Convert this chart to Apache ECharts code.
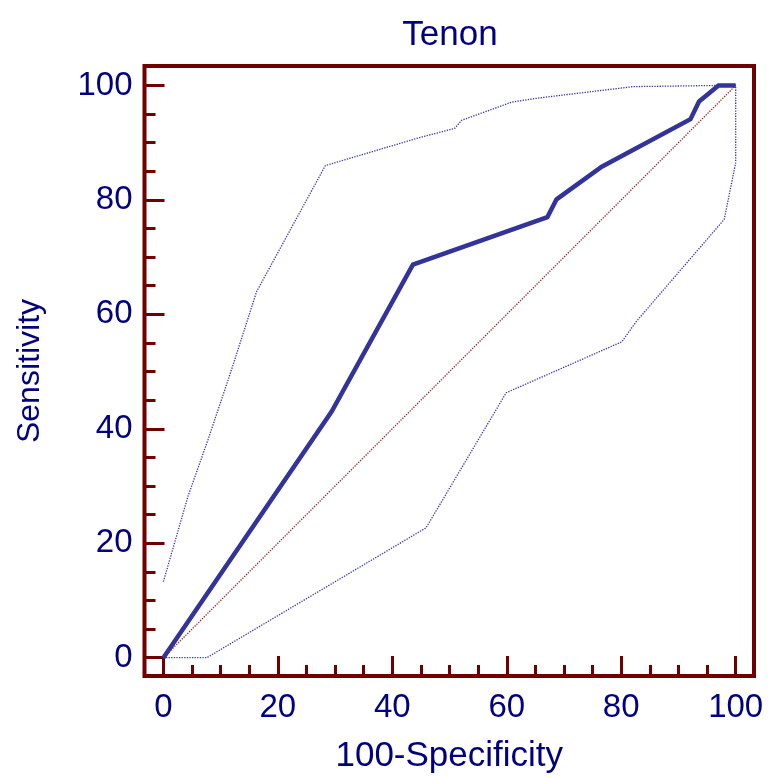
<!DOCTYPE html>
<html>
<head>
<meta charset="utf-8">
<script src="https://cdn.jsdelivr.net/npm/echarts@6/dist/echarts.min.js"></script>
<style>html,body{margin:0;padding:0;background:#fff}#c{width:768px;height:777px}</style>
</head>
<body>
<div id="c"></div>
<script>
const titleText = 'Tenon';
const xName = '100-Specificity';
const yName = 'Sensitivity';
const majorTicks = [0, 20, 40, 60, 80, 100];
const minorTicks = [5, 10, 15, 25, 30, 35, 45, 50, 55, 65, 70, 75, 85, 90, 95];

const rocX = [0, 29.4, 43.6, 67.1, 68.7, 76.6, 92.1, 93.6, 97.0, 100];
const rocY = [0, 43.0, 68.7, 77.0, 80.1, 85.8, 94.1, 97.2, 100, 100];

const upperX = [0, 4.3, 7.8, 11.9, 16.3, 28.3, 44.8, 50.9, 52.1, 60.9, 65.5, 82.1, 97.0, 100];
const upperY = [13.3, 28.2, 38.1, 50.3, 64.0, 86.0, 90.9, 92.5, 93.9, 97.1, 97.8, 99.8, 100, 100];

const lowerX = [0, 7.6, 45.9, 59.9, 80.1, 82.6, 86.2, 98.0, 100, 100];
const lowerY = [0, 0, 22.7, 46.3, 55.2, 58.7, 62.9, 76.6, 86.5, 100];

const diagX = [0, 100];
const diagY = [0, 100];

const pairs = (xs, ys) => xs.map((x, i) => [x, ys[i]]);

const frame = '#700000';
const navy = '#000080';
const font = 'Liberation Sans, Arial, sans-serif';

const chart = echarts.init(document.getElementById('c'));

function xAxisDef(ticks, len, labels) {
  return {
    type: 'value', min: -3.3, max: 103.2, position: 'bottom',
    axisLine: { show: false, onZero: false },
    splitLine: { show: false },
    axisTick: { show: true, inside: true, length: len, customValues: ticks,
      lineStyle: { color: frame, width: 3 } },
    axisLabel: labels ? { show: true, customValues: ticks, fontSize: 33, color: navy,
      fontFamily: font, margin: 15 } : { show: false },
    name: labels ? xName : '', nameLocation: 'middle', nameGap: 63,
    nameTextStyle: { fontSize: 35, color: navy, fontFamily: font }
  };
}
function yAxisDef(ticks, len, labels) {
  return {
    type: 'value', min: -3.2, max: 103.4, position: 'left',
    axisLine: { show: false, onZero: false },
    splitLine: { show: false },
    axisTick: { show: true, inside: true, length: len, customValues: ticks,
      lineStyle: { color: frame, width: 3 } },
    axisLabel: labels ? { show: true, customValues: ticks, fontSize: 33, color: navy,
      fontFamily: font, margin: 12 } : { show: false },
    name: labels ? yName : '', nameLocation: 'middle', nameGap: 98, nameRotate: 90,
    nameTextStyle: { fontSize: 32, color: navy, fontFamily: font }
  };
}

chart.setOption({
  animation: false,
  title: {
    text: titleText, left: 450, top: 18, textAlign: 'center', padding: 0,
    textStyle: { fontSize: 35, fontWeight: 'normal', color: navy, fontFamily: font }
  },
  grid: {
    left: 144.5, right: 14, top: 66, bottom: 101, show: true,
    outerBoundsMode: 'none', containLabel: false,
    borderColor: frame, borderWidth: 4, backgroundColor: '#fff'
  },
  xAxis: [xAxisDef(majorTicks, 20, true), xAxisDef(minorTicks, 11, false)],
  yAxis: [yAxisDef(majorTicks, 20, true), yAxisDef(minorTicks, 11, false)],
  series: [
    { type: 'line', data: pairs(diagX, diagY), showSymbol: false, z: 1,
      lineStyle: { color: '#992222', width: 1.3, type: 'dotted' } },
    { type: 'line', data: pairs(upperX, upperY), showSymbol: false, z: 2,
      lineStyle: { color: '#3333aa', width: 1.3, type: 'dotted' } },
    { type: 'line', data: pairs(lowerX, lowerY), showSymbol: false, z: 2,
      lineStyle: { color: '#3333aa', width: 1.3, type: 'dotted' } },
    { type: 'line', data: pairs(rocX, rocY), showSymbol: false, z: 3,
      lineStyle: { color: '#333399', width: 4.5, join: 'miter' } }
  ]
});
</script>
</body>
</html>
